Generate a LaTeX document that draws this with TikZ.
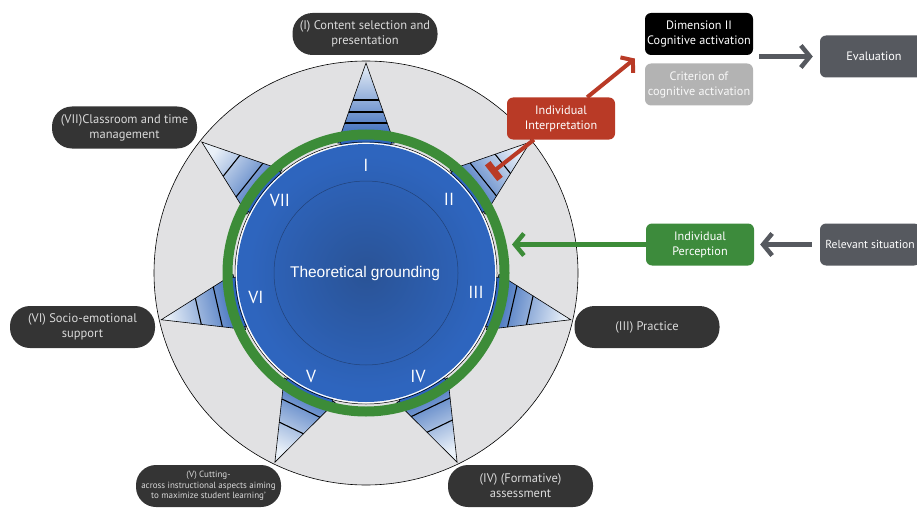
\documentclass[tikz,border=0pt]{standalone}
\usepackage{fontspec}
\setmainfont{PT Sans}
\newfontfamily\helv{Liberation Sans}
\usetikzlibrary{arrows.meta,calc}
\definecolor{lblbg}{HTML}{343434}
\definecolor{lbltx}{HTML}{DADADA}
\definecolor{ringgreen}{HTML}{3C8C38}
\definecolor{boxgreen}{HTML}{3D8B3C}
\definecolor{boxred}{HTML}{B93A26}
\definecolor{slate}{HTML}{56595F}
\definecolor{critgray}{HTML}{B3B3B3}
\definecolor{annulus}{HTML}{E1E1E3}
\definecolor{bluebright}{HTML}{2E65BE}
\definecolor{bluedark}{HTML}{2A5396}
\definecolor{spikelight}{HTML}{E9F0F8}
\definecolor{spikemid}{HTML}{6F9BD8}
\definecolor{spikeblue}{HTML}{2B60B6}
\tikzset{
  pill/.style={fill=lblbg, text=lbltx, rounded corners=20pt, minimum width=145pt, minimum height=42pt, align=center, font=\fontsize{12.5}{15}\selectfont, inner sep=2pt},
  sqbox/.style={rounded corners=6pt, minimum width=108pt, minimum height=42pt, align=center, text=white, font=\fontsize{12.2}{15}\selectfont, inner sep=1pt},
  numeral/.style={text=white, font=\fontsize{17.5}{17.5}\selectfont, inner sep=1pt},
  fatarrow/.style={line width=4.5pt, -{Straight Barb[length=9pt,width=22pt]}},
}
\begin{document}
\begin{tikzpicture}[x=1pt,y=1pt]
\useasboundingbox (0,0) rectangle (917,507);
\coordinate (C) at (366,234);
% outer annulus
\filldraw[fill=annulus, draw=black, line width=0.6pt] (C) circle (212pt);
% spikes
\foreach \k/\lines in {0/{150,161,173},1/{150,175},2/{150,168},3/{149,170},4/{150,172},5/{152,172},6/{149,172}} {
  \pgfmathsetmacro{\ang}{90-51.4286*\k}
  \pgfmathsetmacro{\sa}{-51.4286*\k}
  \shade[top color=spikelight, middle color=spikemid, bottom color=spikeblue, shading angle=\sa]
    ($(C)+(\ang:210pt)$) -- ($(C)+(\ang+12.28:133pt)$) -- ($(C)+(\ang-12.28:133pt)$) -- cycle;
  \draw[line width=0.6pt]
    ($(C)+(\ang:210pt)$) -- ($(C)+(\ang+12.28:133pt)$) -- ($(C)+(\ang-12.28:133pt)$) -- cycle;
  \begin{scope}[shift={(C)}, rotate=\sa]
    \foreach \rr in \lines {
      \pgfmathsetmacro{\ww}{28.3*(210-\rr)/80}
      \draw[line width=1.1pt] (-\ww,\rr) -- (\ww,\rr);
    }
  \end{scope}
  \filldraw[fill=bluebright, draw=black, line width=0.5pt]
    ($(C)+(\ang+11:129pt)$) arc[start angle=\ang+11, end angle=\ang-11, radius=129pt]
    -- ($(C)+(\ang-11:137pt)$) arc[start angle=\ang-11, end angle=\ang+11, radius=137pt] -- cycle;
}
% green ring and blue disc
\draw[ringgreen, line width=10pt] (C) circle (138.5pt);
\draw[black, line width=0.5pt] (C) circle (131pt);
\fill[white] (C) circle (130.3pt);
\fill[bluebright] (C) circle (129pt);
\shade[inner color=bluedark, outer color=bluebright] (C) circle (118pt);
\draw[draw=bluedark!80!black, line width=0.5pt] (C) circle (92pt);
% numerals
\node[numeral] (nI) at (366,342) {I};
\node[numeral] (nII) at (449,308) {II};
\node[numeral] (nIII) at (476,215) {III};
\node[numeral] (nIV) at (418,131) {IV};
\node[numeral] (nV) at (311,131) {V};
\node[numeral] (nVI) at (256,210) {VI};
\node[numeral] (nVII) at (280,307) {VII};
\node[text=white, font=\helv\fontsize{15.5}{16}\selectfont] (tg) at (365,234) {Theoretical grounding};
% labels
\node[pill] (lI) at (365,473) {(I) Content selection and\\presentation};
\node[pill] (lVII) at (124.5,379.5) {(VII)Classroom and time\\management};
\node[pill] (lVI) at (82.5,180) {(VI) Socio-emotional\\support};
\node[pill, font=\fontsize{9}{10.7}\selectfont] (lV) at (208.5,21) {(V) Cutting-\\across instructional aspects aiming\\to maximize student learning'};
\node[pill] (lIII) at (647,180) {(III) Practice};
\node[pill] (lIV) at (520.5,21) {(IV) (Formative)\\assessment};
% boxes
\node[sqbox, fill=boxred] (interp) at (561,388.5) {Individual\\Interpretation};
\node[sqbox, fill=black] (dim) at (699,473) {Dimension II\\Cognitive activation};
\node[sqbox, fill=critgray, text=white!95!gray] (crit) at (699,422.5) {Criterion of\\cognitive activation};
\node[sqbox, fill=slate] (eval) at (874,450.5) {Evaluation};
\node[sqbox, fill=boxgreen] (percep) at (700,262.5) {Individual\\Perception};
\node[sqbox, fill=slate, minimum width=100pt, font=\fontsize{11.6}{15}\selectfont] (relev) at (870,262.5) {Relevant situation};
% connectors
\coordinate (tee) at ($(C)+(38.57:160pt)$);
\coordinate (dimtip) at ($(C)+(38.57:344pt)$);
\draw[boxred, line width=4pt, -{Straight Barb[length=8pt,width=20pt]}] (interp) -- (dimtip);
\draw[boxred, line width=4pt, -{Rectangle[length=7pt,width=20pt]}] (interp) -- (tee);
\coordinate (evalfrom) at (759,450.5);
\draw[slate, fatarrow, shorten >=7pt] (evalfrom) -- (eval.west);
\draw[slate, fatarrow, shorten >=6pt, shorten <=8pt] (relev) -- (percep);
\coordinate (ringpt) at (512,262.5);
\draw[ringgreen, fatarrow] (percep) -- (ringpt);
\end{tikzpicture}
\end{document}
